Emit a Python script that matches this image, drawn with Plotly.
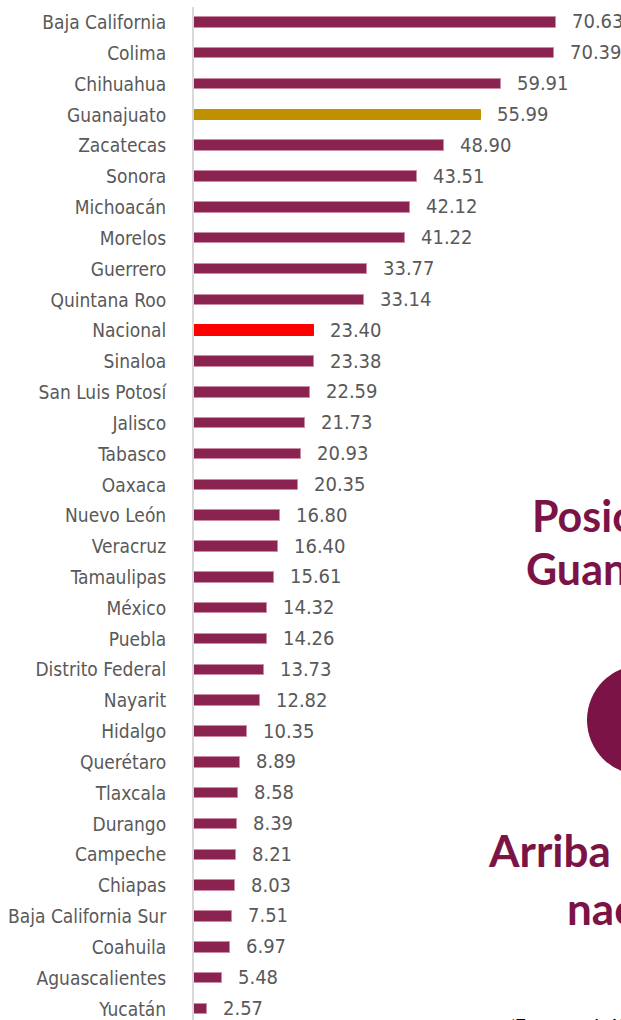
import plotly.graph_objects as go

categories = [
    "Baja California", "Colima", "Chihuahua", "Guanajuato", "Zacatecas", "Sonora",
    "Michoacán", "Morelos", "Guerrero", "Quintana Roo", "Nacional", "Sinaloa",
    "San Luis Potosí", "Jalisco", "Tabasco", "Oaxaca", "Nuevo León", "Veracruz",
    "Tamaulipas", "México", "Puebla", "Distrito Federal", "Nayarit", "Hidalgo",
    "Querétaro", "Tlaxcala", "Durango", "Campeche", "Chiapas", "Baja California Sur",
    "Coahuila", "Aguascalientes", "Yucatán",
]
values = [
    70.63, 70.39, 59.91, 55.99, 48.90, 43.51, 42.12, 41.22, 33.77, 33.14, 23.40, 23.38,
    22.59, 21.73, 20.93, 20.35, 16.80, 16.40, 15.61, 14.32, 14.26, 13.73, 12.82, 10.35,
    8.89, 8.58, 8.39, 8.21, 8.03, 7.51, 6.97, 5.48, 2.57,
]
highlight_state = "Guanajuato"
national_label = "Nacional"

MAROON = "#8A2350"
GOLD = "#BF9000"
RED = "#FF0000"
TEXT_GRAY = "#595959"
DARK = "#7B1346"

colors = []
line_colors = []
for c in categories:
    if c == highlight_state:
        colors.append(GOLD); line_colors.append(GOLD)
    elif c == national_label:
        colors.append(RED); line_colors.append(RED)
    else:
        colors.append(MAROON); line_colors.append("#C98BA6")

W, H = 621, 1020
ML, MR, MT, MB = 194, 0, 7, 0
plot_w = W - ML - MR
plot_h = H - MT - MB
px_per_unit = 5.12
row_px = 30.83

fig = go.Figure(go.Bar(
    x=values, y=categories, orientation="h",
    width=0.34,
    marker=dict(color=colors, line=dict(color=line_colors, width=1)),
    hoverinfo="skip",
))

narrow = "DejaVu Sans Condensed, Liberation Sans Narrow, sans-serif"

for c, v in zip(categories, values):
    fig.add_annotation(
        x=v, y=c, xref="x", yref="y", text=f"{v:.2f}", showarrow=False,
        xanchor="left", yanchor="middle", xshift=14, yshift=1,
        font=dict(family=narrow, size=20, color=TEXT_GRAY),
    )

def px_x(xp):
    return (xp - ML) / plot_w

def px_y(yp):
    return (H - MB - yp) / plot_h

bold = "Lato, Open Sans, sans-serif"
side_texts = [
    ("Posición de", 530, 515, 43),
    ("Guanajuato", 524, 568, 43),
    ("Arriba de la media", 486, 850, 44),
    ("nacional", 565, 908, 44),
]
for t, xp, yp, sz in side_texts:
    fig.add_annotation(
        x=px_x(xp), y=px_y(yp), xref="paper", yref="paper", text=f"<b>{t}</b>",
        showarrow=False, xanchor="left", yanchor="middle",
        font=dict(family=bold, size=sz, color=DARK),
    )

fig.add_annotation(
    x=px_x(508), y=px_y(1013), xref="paper", yref="paper",
    text="<b>*Tasa por cada 100 mil habitantes</b>", showarrow=False,
    xanchor="left", yanchor="top", font=dict(family=bold, size=15, color="#000000"),
)

fig.add_shape(
    type="circle", xref="paper", yref="paper",
    x0=px_x(587), x1=px_x(697), y0=px_y(775), y1=px_y(665),
    fillcolor=DARK, line=dict(width=0), layer="above",
)

top = -0.5
bottom = top + plot_h / row_px

fig.update_layout(
    width=W, height=H,
    margin=dict(l=ML, r=MR, t=MT, b=MB, pad=0, autoexpand=False),
    plot_bgcolor="white", paper_bgcolor="white",
    showlegend=False,
    bargap=0,
    xaxis=dict(visible=False, range=[0, plot_w / px_per_unit], fixedrange=True,
               automargin=False),
    yaxis=dict(
        type="category", categoryorder="array", categoryarray=categories,
        range=[bottom, top], automargin=False,
        showline=True, linecolor="#D9D9D9", linewidth=2,
        showgrid=False, zeroline=False, ticks="",
        ticklabelstandoff=22,
        tickfont=dict(family=narrow, size=19, color=TEXT_GRAY),
        fixedrange=True,
    ),
)

fig.write_html(
    "out.html",
    config={"displayModeBar": False},
    post_script="document.body.style.margin='0';document.body.style.overflow='hidden';",
)
